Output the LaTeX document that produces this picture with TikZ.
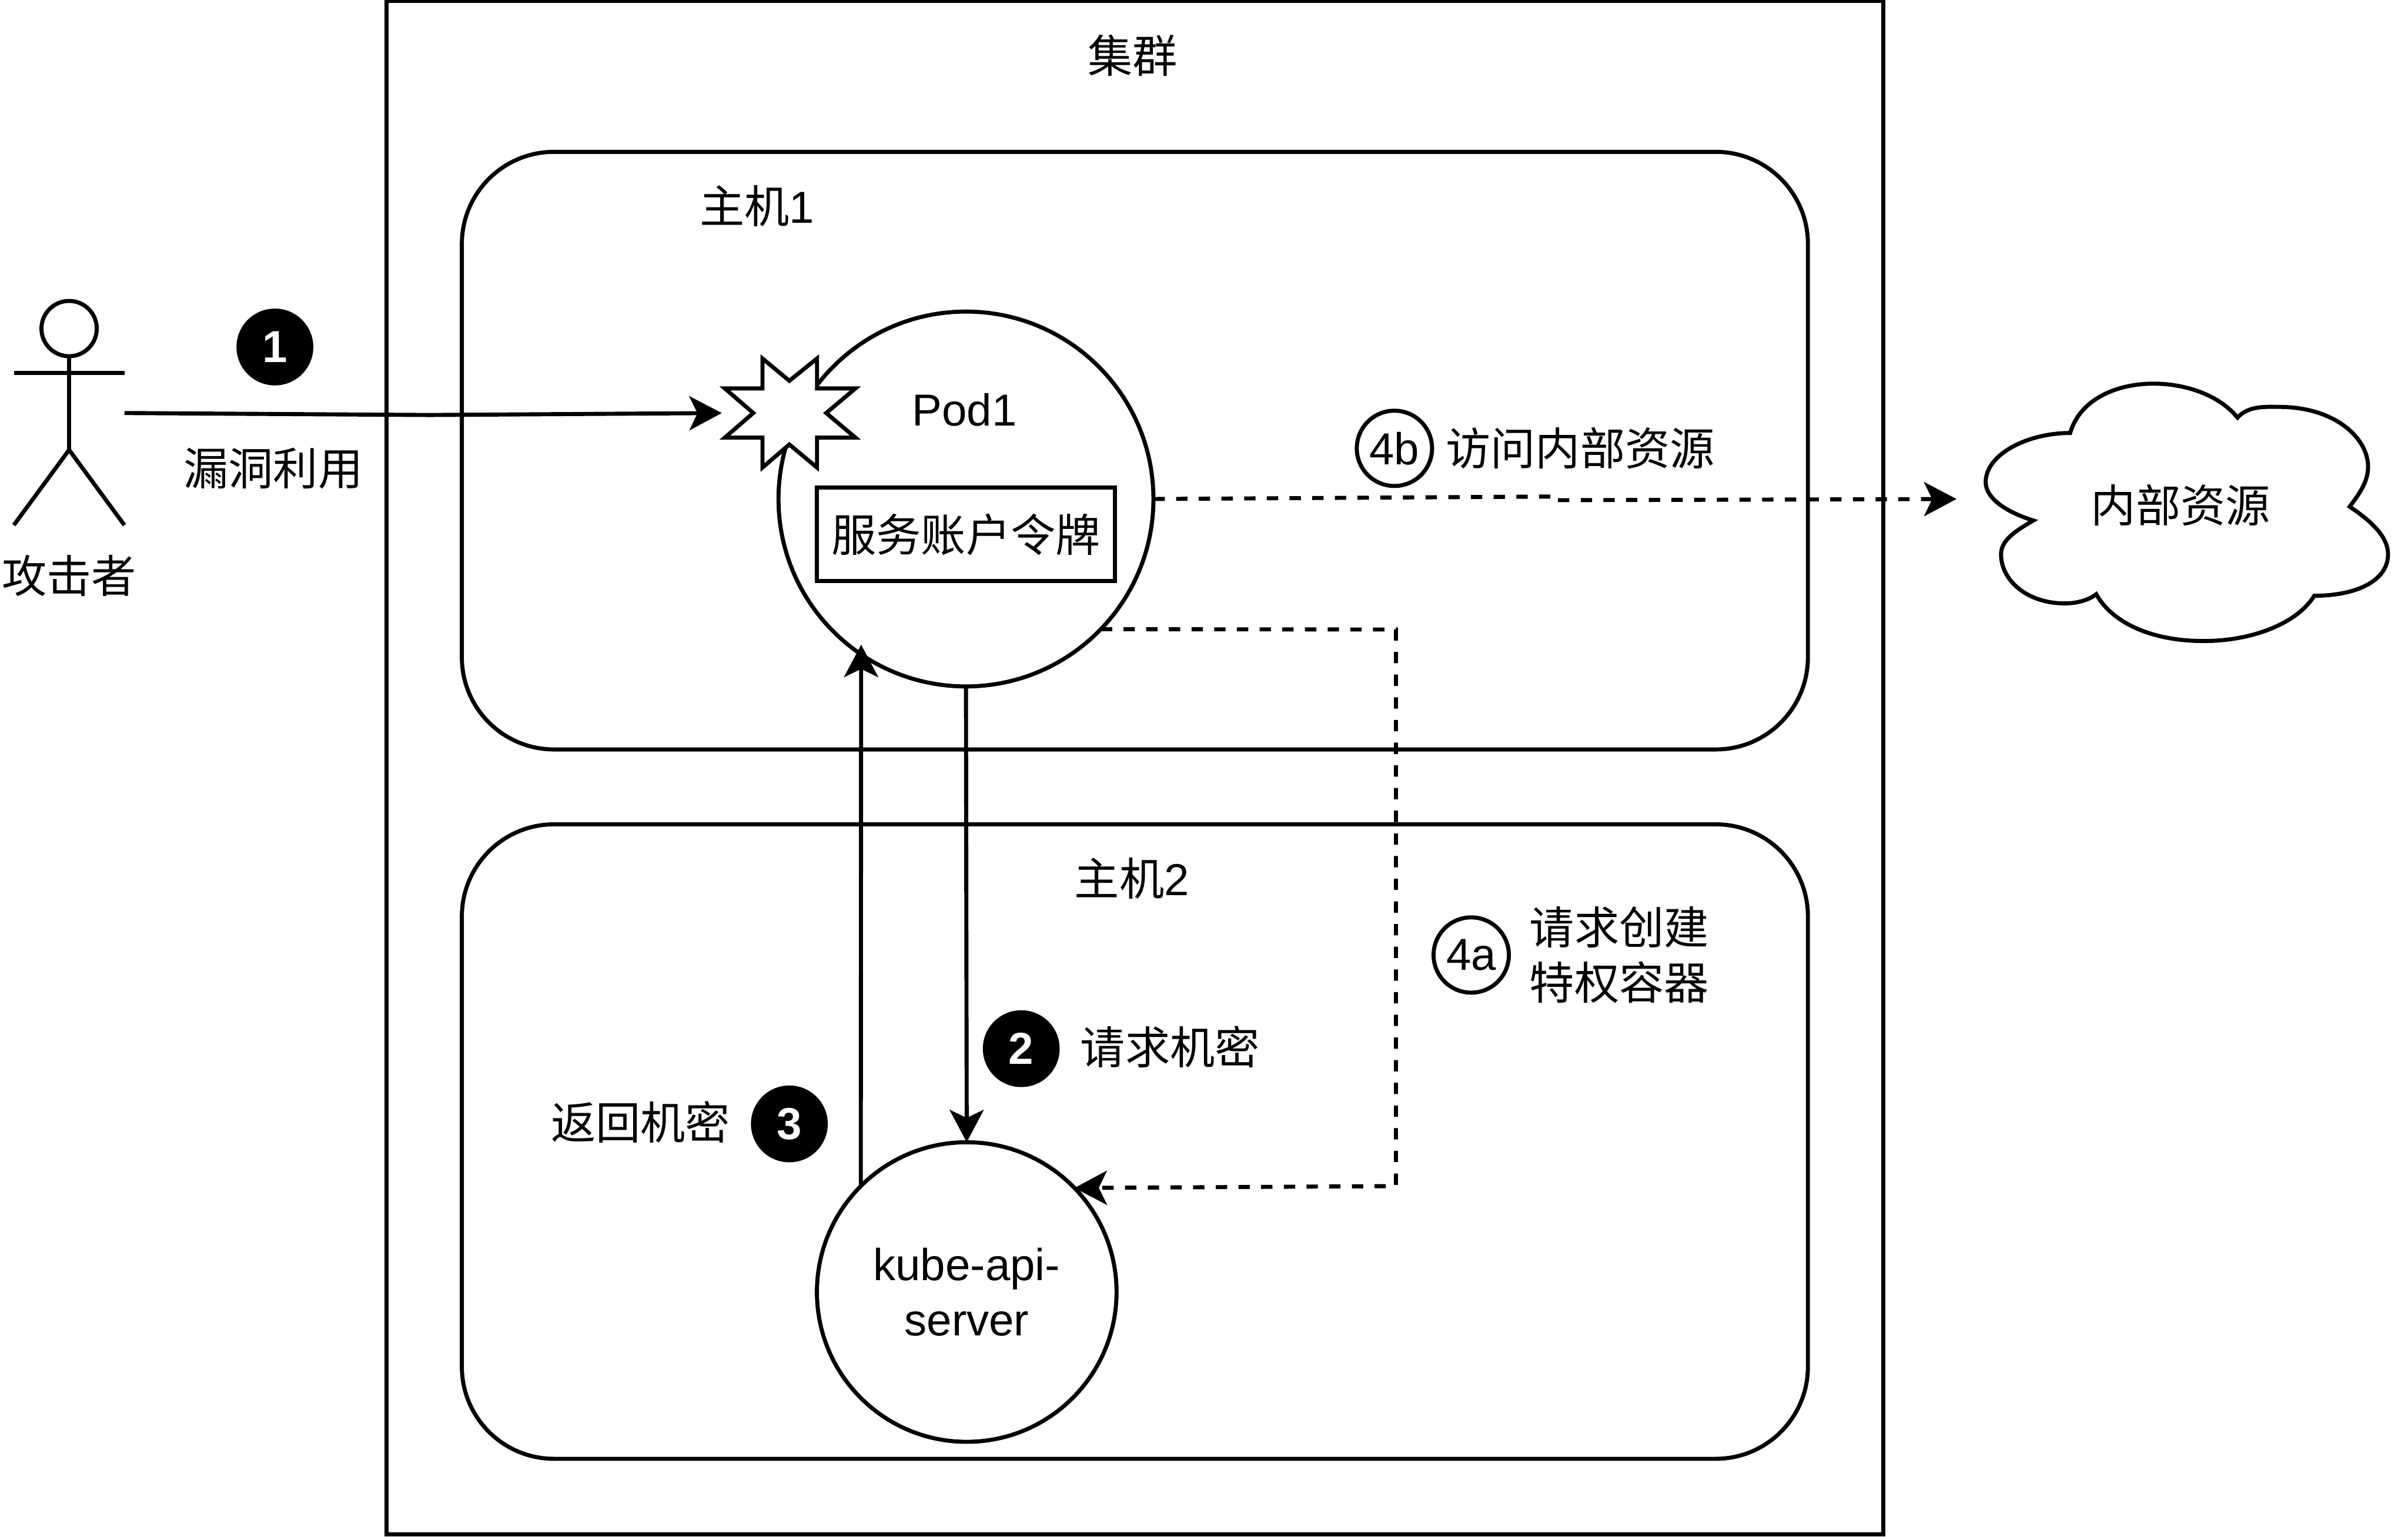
\documentclass[tikz,border=0pt]{standalone}
\usepackage{fontspec}
\setmainfont{Liberation Sans}
\newfontfamily\cjk{Noto Sans CJK SC}
\usetikzlibrary{arrows.meta,positioning}
\tikzset{
    k8sframe/.style={draw, inner sep=0pt, outer sep=0pt, minimum width=9.74cm, minimum height=9.98cm},
    k8shost/.style={draw, rounded corners=0.6cm, inner sep=0pt, outer sep=0pt, minimum width=8.76cm},
    k8spod/.style={circle, draw, fill=white, inner sep=0pt, outer sep=0pt, align=center},
    k8stoken/.style={draw, fill=white, inner sep=0pt, outer sep=0pt, minimum width=1.94cm, minimum height=0.61cm},
    k8stext/.style={align=center, inner sep=0pt, outer sep=0pt},
    k8sbadge/.style={circle, fill=black, text=white, font=\fontsize{8.3}{10.3}\selectfont\bfseries, inner sep=0pt, outer sep=0pt, minimum size=0.5cm},
    k8sring/.style={circle, draw, inner sep=0pt, outer sep=0pt, minimum size=0.49cm},
    k8sarrow/.style={-{Stealth[length=6pt,width=6.3pt,inset=1.5pt]}},
    k8sdash/.style={k8sarrow, dash pattern=on 2.1pt off 2.1pt}
}

\begin{document}
\begin{tikzpicture}[x=0.01cm, y=-0.01cm, line width=0.75pt, font=\fontsize{8.3}{10.3}\selectfont, node distance=0.09cm]
        \useasboundingbox (0,0) rectangle (1568,1000.7);

        \node[k8sframe] (cluster) at (739,500) {};
        \node[k8shost, minimum height=3.89cm] (hostone) at (739,293.5) {};
        \node[k8shost, minimum height=4.13cm] (hosttwo) at (739,743.5) {};
        \node[k8stext] (clusterlabel) at (737.5,36) {\cjk 集群};
        \node[k8stext] (hostonelabel) at (493,134) {{\cjk 主机}1};
        \node[k8stext] (hosttwolabel) at (737,572) {{\cjk 主机}2};

        \node[k8spod, minimum size=2.44cm] (pod) at (629,325) {};
        \draw[fill=white] (496.5,233.5) -- (514,248) -- (532,233.5) -- (532,253) -- (557,253) -- (538,269) -- (557,285) -- (532,285) -- (532,304.5) -- (514,289.5) -- (496.5,304.5) -- (496.5,285) -- (472,285) -- (490.5,269) -- (472,253) -- (496.5,253) -- cycle;
        \node[k8stext] (podlabel) at (628,267) {Pod1};
        \node[k8stoken] (token) at (629,348) {\cjk 服务账户令牌};
        \node[k8spod, minimum size=1.95cm] (kube) at (629.5,841.5) {kube-api-\\server};

        \node[k8spod, minimum size=0.36cm] (head) at (45,214) {};
        \coordinate (hip) at (45,293);
        \coordinate (armleft) at (9,243);
        \coordinate (armright) at (81,243);
        \coordinate (footleft) at (9,342);
        \coordinate (footright) at (81,342);
        \draw (head.south) -- (hip);
        \draw (armleft) -- (armright);
        \draw (footleft) -- (hip) -- (footright);
        \node[k8stext] (attacker) at (45,375) {\cjk 攻击者};

        \draw (1348,282) .. controls (1360,241) and (1432,241) .. (1457,272)
            .. controls (1464,264) and (1476,265) .. (1484,265)
            .. controls (1520,265) and (1542,285) .. (1542,304)
            .. controls (1542,314) and (1536,322) .. (1530,330)
            .. controls (1545,340) and (1555,350) .. (1555,361)
            .. controls (1555,378) and (1535,388) .. (1507,388)
            .. controls (1495,407) and (1465,417.5) .. (1435,417.5)
            .. controls (1400,417.5) and (1375,405) .. (1365,387)
            .. controls (1360,391) and (1352,393) .. (1344.5,393)
            .. controls (1320,393) and (1303,378) .. (1303,361)
            .. controls (1303,352) and (1312,346) .. (1324,339)
            .. controls (1305,333) and (1293,324) .. (1293,314)
            .. controls (1293,296) and (1320,282) .. (1348,282) -- cycle;
        \node[k8stext] (resource) at (1420,329) {\cjk 内部资源};

        \node[k8sbadge] (stepone) at (179,226) {1};
        \node[k8stext] (stepnote) at (178,305) {\cjk 漏洞利用};
        \node[k8sbadge] (steptwo) at (665,683) {2};
        \node[k8stext, right=0.135cm of steptwo, yshift=0.01cm] (askkey) {\cjk 请求机密};
        \node[k8sbadge] (stepthree) at (514,732) {3};
        \node[k8stext, left=0.135cm of stepthree, yshift=0.01cm] (givekey) {\cjk 返回机密};
        \node[k8sring] (stepfourb) at (908,292) {4b};
        \node[k8stext, right=of stepfourb] (visit) {\cjk 访问内部资源};
        \node[k8sring] (stepfoura) at (958,622) {4a};
        \node[k8stext, right=0.135cm of stepfoura] (askpod) {\cjk 请求创建\\\cjk 特权容器};

        \coordinate (attackerhand) at (81,269);
        \coordinate (attackerbend) at (280,270.3);
        \coordinate (blastwest) at (470,269);
        \coordinate (jogtop) at (1010,323.4);
        \coordinate (jogbottom) at (1010,325.8);
        \coordinate (resourcewest) at (1274,325);
        \coordinate (createright) at (909,410);
        \coordinate (createdown) at (909,772.5);

        \draw[k8sarrow] (attackerhand) -- (attackerbend) -- (blastwest);
        \draw[k8sarrow] (pod.south) -- (kube.north);
        \draw[k8sarrow, shorten >=-1.8pt] (kube.135) -- (pod.236);
        \draw[k8sdash] (pod.0.75) -- (jogtop) -- (jogbottom) -- (resourcewest);
        \draw[k8sdash] (pod.-44.2) -- (createright) -- (createdown) -- (kube.44);
    \end{tikzpicture}
\end{document}
